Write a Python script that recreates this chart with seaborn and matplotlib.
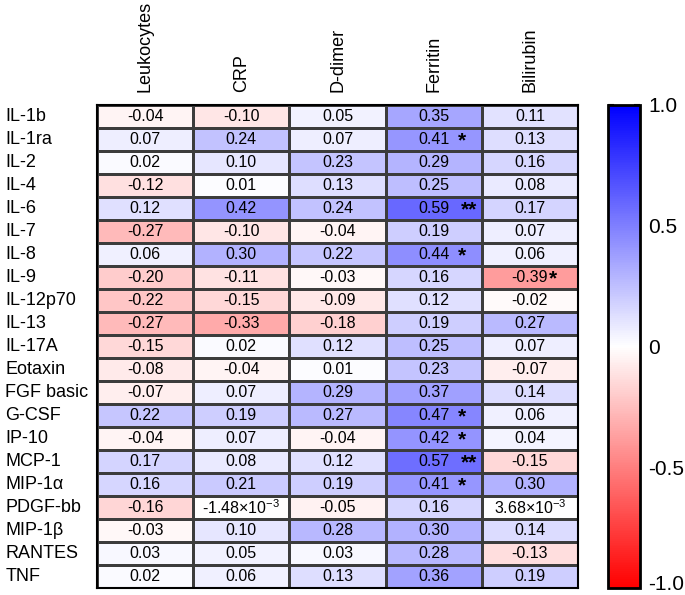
import numpy as np
import pandas as pd
import matplotlib
matplotlib.use("Agg")
import matplotlib.pyplot as plt
import matplotlib.transforms as mtransforms
import seaborn as sns
from matplotlib.colors import LinearSegmentedColormap

# -----------------------------
# Data
# -----------------------------
cytokines = ["IL-1b", "IL-1ra", "IL-2", "IL-4", "IL-6", "IL-7", "IL-8", "IL-9",
             "IL-12p70", "IL-13", "IL-17A", "Eotaxin", "FGF basic", "G-CSF",
             "IP-10", "MCP-1", "MIP-1\u03b1", "PDGF-bb", "MIP-1\u03b2", "RANTES", "TNF"]
markers = ["Leukocytes", "CRP", "D-dimer", "Ferritin", "Bilirubin"]

leukocytes = [-0.04, 0.07, 0.02, -0.12, 0.12, -0.27, 0.06, -0.20, -0.22, -0.27, -0.15,
              -0.08, -0.07, 0.22, -0.04, 0.17, 0.16, -0.16, -0.03, 0.03, 0.02]
crp = [-0.10, 0.24, 0.10, 0.01, 0.42, -0.10, 0.30, -0.11, -0.15, -0.33, 0.02,
       -0.04, 0.07, 0.19, 0.07, 0.08, 0.21, -0.00148, 0.10, 0.05, 0.06]
ddimer = [0.05, 0.07, 0.23, 0.13, 0.24, -0.04, 0.22, -0.03, -0.09, -0.18, 0.12,
          0.01, 0.29, 0.27, -0.04, 0.12, 0.19, -0.05, 0.28, 0.03, 0.13]
ferritin = [0.35, 0.41, 0.29, 0.25, 0.59, 0.19, 0.44, 0.16, 0.12, 0.19, 0.25,
            0.23, 0.37, 0.47, 0.42, 0.57, 0.41, 0.16, 0.30, 0.28, 0.36]
bilirubin = [0.11, 0.13, 0.16, 0.08, 0.17, 0.07, 0.06, -0.39, -0.02, 0.27, 0.07,
             -0.07, 0.14, 0.06, 0.04, -0.15, 0.30, 0.00368, 0.14, -0.13, 0.19]

# significance stars (Ferritin column / Bilirubin column)
ferritin_stars = ["", "*", "", "", "**", "", "*", "", "", "", "",
                  "", "", "*", "*", "**", "*", "", "", "", ""]
bilirubin_stars = ["", "", "", "", "", "", "", "*", "", "", "",
                   "", "", "", "", "", "", "", "", "", ""]

df = pd.DataFrame({"Leukocytes": leukocytes, "CRP": crp, "D-dimer": ddimer,
                   "Ferritin": ferritin, "Bilirubin": bilirubin}, index=cytokines)


def fmt(v):
    if abs(v) < 0.005 and v != 0:
        m, e = f"{v:.2e}".split("e")
        return f"{m}\u00d710$^{{{int(e)}}}$"
    return f"{v:.2f}"


labels = df.map(fmt)

# -----------------------------
# Plot
# -----------------------------
sns.set_style("white")
plt.rcParams["font.family"] = ["Liberation Sans", "DejaVu Sans"]
plt.rcParams["mathtext.fontset"] = "custom"
plt.rcParams["mathtext.rm"] = "Liberation Sans"
plt.rcParams["mathtext.it"] = "Liberation Sans"
plt.rcParams["text.color"] = "black"
plt.rcParams["xtick.color"] = "black"
plt.rcParams["ytick.color"] = "black"

cmap = LinearSegmentedColormap.from_list("rwb", ["#ff0000", "#ffffff", "#0000ff"])

fig = plt.figure(figsize=(6.85, 5.95), dpi=100)
ax = fig.add_axes([97 / 685, 1 - 588 / 595, 481 / 685, 483 / 595])
cax = fig.add_axes([608 / 685, 1 - 588 / 595, 32 / 685, 483 / 595])

sns.heatmap(df, ax=ax, cbar_ax=cax, cmap=cmap, vmin=-1, vmax=1,
            annot=labels, fmt="", annot_kws={"fontsize": 11.5, "color": "black"},
            linewidths=0.8, linecolor="#3c3c3c")

# stars next to significant values
for i, s in enumerate(ferritin_stars):
    if s:
        ax.text(3.79 if s == "*" else 3.87, i + 0.55, s, ha="center", va="center",
                fontsize=15, fontweight="bold", color="black")
for i, s in enumerate(bilirubin_stars):
    if s:
        ax.text(4.74, i + 0.55, s, ha="center", va="center",
                fontsize=15, fontweight="bold", color="black")

ax.xaxis.tick_top()
ax.set_xticklabels(markers, rotation=90, fontsize=13, color="black")
ax.set_yticklabels(cytokines, rotation=0, fontsize=13, ha="left", color="black")
ax.tick_params(axis="x", length=0, pad=9)
ax.tick_params(axis="y", length=0, pad=66)
ax.set_xlabel("")
ax.set_ylabel("")
for sp in ax.spines.values():
    sp.set_visible(True)
    sp.set_color("black")
    sp.set_linewidth(1.5)

cbar = ax.collections[0].colorbar
cbar.set_ticks([-1.0, -0.5, 0, 0.5, 1.0])
cbar.set_ticklabels(["-1.0", "-0.5", "0", "0.5", "1.0"])
cax.tick_params(direction="in", left=True, right=True, length=4, width=1.5,
                labelsize=15, pad=6, colors="black")
cbar.outline.set_visible(True)
cbar.outline.set_edgecolor("black")
cbar.outline.set_linewidth(2)

# nudge the bottom colorbar label up so it stays inside the figure
fig.canvas.draw()
bottom_lbl = cax.get_yticklabels()[0]
bottom_lbl.set_transform(bottom_lbl.get_transform()
                         + mtransforms.ScaledTranslation(0, 6 / 100, fig.dpi_scale_trans))

plt.savefig("out.png", dpi=100)
